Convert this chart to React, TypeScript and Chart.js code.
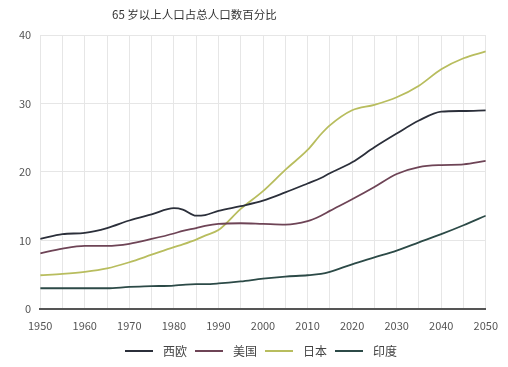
import React, { useEffect, useRef } from "react";
import { Chart, registerables } from "chart.js";

Chart.register(...registerables);

const title = "65 岁以上人口占总人口数百分比";
const years = [1950, 1955, 1960, 1965, 1970, 1975, 1980, 1982, 1985, 1987, 1990, 1995, 2000, 2005, 2010, 2013, 2015, 2020, 2025, 2030, 2035, 2040, 2045, 2050];
const westEurope = [10.2, 10.9, 11.1, 11.8, 12.9, 13.8, 14.7, 14.5, 13.6, 13.7, 14.3, 15.0, 15.8, 17.0, 18.3, 19.1, 19.8, 21.4, 23.6, 25.6, 27.5, 28.8, 28.9, 29.0];
const usa = [8.1, 8.8, 9.2, 9.2, 9.5, 10.2, 11.0, 11.4, 11.8, 12.1, 12.4, 12.5, 12.4, 12.3, 12.8, 13.6, 14.3, 16.0, 17.8, 19.7, 20.7, 21.0, 21.1, 21.6];
const japan = [4.9, 5.1, 5.4, 5.9, 6.8, 7.9, 9.0, 9.4, 10.1, 10.7, 11.5, 14.6, 17.2, 20.3, 23.2, 25.5, 26.8, 29.0, 29.8, 30.9, 32.6, 35.0, 36.6, 37.6];
const india = [3.0, 3.0, 3.0, 3.0, 3.2, 3.3, 3.4, 3.5, 3.6, 3.6, 3.7, 4.0, 4.4, 4.7, 4.9, 5.1, 5.4, 6.5, 7.5, 8.5, 9.7, 10.9, 12.2, 13.6];
const seriesNames = ["西欧", "美国", "日本", "印度"];
const seriesColors = ["#2b2f3a", "#6e4456", "#b8bd5e", "#2c4a47"];

const FONT = "'Noto Sans CJK SC', 'Noto Sans', sans-serif";

export default function App() {
  const ref = useRef<HTMLCanvasElement | null>(null);
  useEffect(() => {
    if (!ref.current) return;
    const all = [westEurope, usa, japan, india];
    const chart = new Chart(ref.current, {
      type: "line",
      data: {
        datasets: all.map((vals, i) => ({
          label: seriesNames[i],
          data: years.map((y, j) => ({ x: y, y: vals[j] })),
          borderColor: seriesColors[i],
          backgroundColor: seriesColors[i],
          borderWidth: 1.8,
          pointRadius: 0,
          cubicInterpolationMode: "monotone" as const,
          fill: false,
        })),
      },
      options: {
        animation: false,
        responsive: false,
        maintainAspectRatio: false,
        layout: { padding: { left: 10, right: 8, top: 35, bottom: 25 } },
        plugins: {
          title: { display: false },
          tooltip: { enabled: false },
          legend: { display: false },
        },
        scales: {
          x: {
            type: "linear",
            min: 1950,
            max: 2050,
            grid: { color: "#e6e6e6", drawTicks: false, lineWidth: 1 },
            border: { display: true, color: "#555", width: 2 },
            ticks: {
              stepSize: 5,
              autoSkip: false,
              maxRotation: 0,
              padding: 10,
              color: "#555",
              font: { family: FONT, size: 11 },
              callback: (v: any) => (Number(v) % 10 === 0 ? String(v) : ""),
            },
          },
          y: {
            min: 0,
            max: 40,
            grid: { color: "#e6e6e6", drawTicks: false, lineWidth: 1 },
            border: { display: false },
            ticks: {
              stepSize: 10,
              padding: 9,
              color: "#555",
              font: { family: FONT, size: 11 },
            },
          },
        },
      },
    });
    return () => chart.destroy();
  }, []);
  return (
    <div style={{ position: "fixed", left: 0, top: 0, width: 508, height: 367, background: "#fff" }}>
      <div
        style={{
          position: "absolute",
          left: 112,
          top: 6,
          fontFamily: FONT,
          fontSize: 11.5,
          color: "#333",
          whiteSpace: "nowrap",
        }}
      >
        {title}
      </div>
      <canvas ref={ref} width={508} height={367} style={{ display: "block" }} />
      <div
        style={{
          position: "absolute",
          left: 125,
          top: 343,
          height: 16,
          display: "flex",
          alignItems: "center",
          fontFamily: FONT,
          fontSize: 12,
          lineHeight: "16px",
          color: "#444",
          whiteSpace: "nowrap",
        }}
      >
        {seriesNames.map((n, i) => (
          <span key={n} style={{ display: "flex", alignItems: "center", marginRight: 8 }}>
            <span
              style={{
                display: "inline-block",
                width: 28,
                height: 2,
                background: seriesColors[i],
                marginRight: 10,
              }}
            />
            <span>{n}</span>
          </span>
        ))}
      </div>
    </div>
  );
}
